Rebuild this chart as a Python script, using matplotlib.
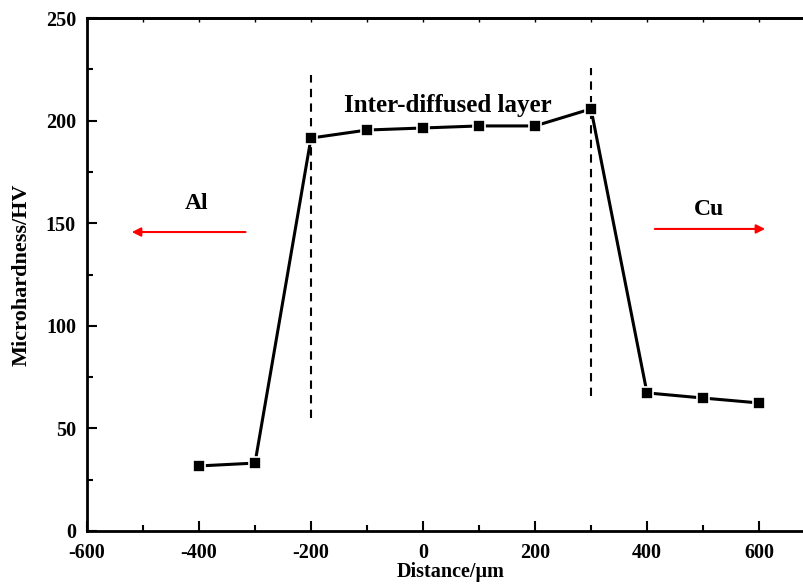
import matplotlib
matplotlib.use("Agg")
import matplotlib.pyplot as plt
import numpy as np

distance = [-400, -300, -200, -100, 0, 100, 200, 300, 400, 500, 600]
hardness = [31.7, 33.1, 191.5, 195.4, 196.4, 197.4, 197.4, 205.7, 67.3, 64.8, 62.4]

x_ticks = [-600, -400, -200, 0, 200, 400, 600]
y_ticks = [0, 50, 100, 150, 200, 250]

boundary_left = -200
boundary_right = 300

plt.rcParams['font.family'] = ['Liberation Serif', 'DejaVu Serif']
plt.rcParams['font.weight'] = 'bold'
plt.rcParams['axes.unicode_minus'] = False

fig = plt.figure(figsize=(8.04, 5.85), dpi=100)
ax = fig.add_axes([87/804, 54/585, (815-87)/804, (531-18)/585])

ax.plot(distance, hardness, color='black', lw=2.2, marker='s', markersize=8,
        markerfacecolor='black', markeredgecolor='white', markeredgewidth=1.2, zorder=3)

ax.vlines([boundary_left], 55, 222, colors='black', linestyles=(0, (4, 3)), lw=1.5)
ax.vlines([boundary_right], 66, 225.6, colors='black', linestyles=(0, (4, 3)), lw=1.5)

ax.annotate('', xy=(-525, 145.7), xytext=(-312, 145.7),
            arrowprops=dict(arrowstyle='-|>', color='red', lw=1.5, mutation_scale=13))
ax.annotate('', xy=(616, 147.2), xytext=(409, 147.2),
            arrowprops=dict(arrowstyle='-|>', color='red', lw=1.5, mutation_scale=13))

ax.text(-405, 159.5, 'Al', fontsize=17, fontweight='bold', ha='center', va='center')
ax.text(510, 156.5, 'Cu', fontsize=17, fontweight='bold', ha='center', va='center')
ax.text(45, 207.6, 'Inter-diffused layer', fontsize=18, fontweight='bold', ha='center', va='center')

ax.set_xlim(-600, 700)
ax.set_ylim(0, 250)
ax.set_xticks(x_ticks)
ax.set_yticks(y_ticks)
ax.set_xticks(np.arange(-500, 700, 200), minor=True)
ax.set_yticks(np.arange(25, 250, 50), minor=True)
ax.tick_params(which='major', direction='in', length=7, width=1.5, labelsize=14.5)
ax.tick_params(axis='x', which='major', pad=9)
ax.tick_params(axis='y', which='major', pad=8)
ax.tick_params(which='minor', direction='in', length=4, width=1.5)
for lab in ax.get_xticklabels() + ax.get_yticklabels():
    lab.set_fontweight('bold')

sec = ax.secondary_xaxis('top')
sec.set_xticks(np.arange(-600, 701, 100))
sec.tick_params(direction='in', length=3, width=1, labeltop=False)

for s in ax.spines.values():
    s.set_linewidth(2)
sec.spines['top'].set_linewidth(2)

ax.set_xlabel('Distance/μm', fontsize=14.5, fontweight='bold', labelpad=-1)
ax.set_ylabel('Microhardness/HV', fontsize=16, fontweight='bold', labelpad=10)

fig.savefig('out.png', dpi=100)
